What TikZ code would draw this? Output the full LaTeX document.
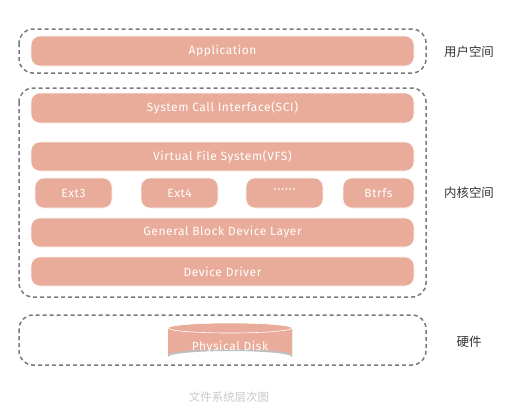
\documentclass[tikz,border=0pt]{standalone}
\usepackage{fontspec}
\setmainfont{Fira Sans}[LetterSpace=5]
\newfontfamily\cjk{Noto Sans CJK SC}
\definecolor{boxfill}{HTML}{EAAC9A}
\definecolor{dashgray}{HTML}{7A7A7A}
\definecolor{capgray}{HTML}{C8C8C8}
\tikzset{
  x=1bp, y=-1bp,
  layer/.style={fill=boxfill, draw=white!90!boxfill, line width=0.6bp, rounded corners=9bp},
  ltext/.style={text=white, font=\fontsize{12}{13}\selectfont},
  group/.style={draw=dashgray, line width=1.5bp, dash pattern=on 4bp off 3bp, rounded corners=14bp},
  side/.style={font=\cjk\fontsize{12.5}{14}\selectfont, text=black!80},
}
\begin{document}
\begin{tikzpicture}
\useasboundingbox (0,0) rectangle (520,413);
% groups
\draw[group] (19,29) rectangle (426,73);
\draw[group] (19,88) rectangle (426,297);
\draw[group] (19,315) rectangle (426,365);
% layers
\path[layer] (31,36) rectangle (414,66);
\node[ltext] (app) at (222.5,51) {Application};
\path[layer] (31,93) rectangle (414,123);
\node[ltext] (sci) at (222.5,108) {System Call Interface(SCI)};
\path[layer] (31,142) rectangle (414,171);
\node[ltext] (vfs) at (222.5,156.5) {Virtual File System(VFS)};
\path[layer] (35,178) rectangle (112,208);
\node[ltext] (ext3) at (73.5,193) {Ext3};
\path[layer] (141,178) rectangle (218,208);
\node[ltext] (ext4) at (179.5,193) {Ext4};
\path[layer] (246,178) rectangle (323,208);
\node[ltext, font=\fontsize{13}{14}\selectfont] (dots) at (284.5,191) {\textperiodcentered\textperiodcentered\textperiodcentered\textperiodcentered\textperiodcentered\textperiodcentered};
\path[layer] (343,178) rectangle (414,208);
\node[ltext] (btrfs) at (378.5,193) {Btrfs};
\path[layer] (31,218) rectangle (414,247);
\node[ltext] (gbdl) at (222.5,232.5) {General Block Device Layer};
\path[layer] (31,257) rectangle (414,286);
\node[ltext] (dd) at (222.5,271.5) {Device Driver};
% disk
\fill[black!25] (168,330) -- (168,357) arc[start angle=180, end angle=360, x radius=62, y radius=6] -- (292,330) -- cycle;
\fill[boxfill] (168,328) -- (168,355) arc[start angle=180, end angle=360, x radius=62, y radius=6] -- (292,328) -- cycle;
\draw[fill=boxfill, draw=white, line width=0.6bp] (230,328) ellipse[x radius=62, y radius=5];
\node[ltext] (disk) at (230,347) {Physical Disk};
% side labels
\node[side] (user) at (469,52) {用户空间};
\node[side] (kern) at (469,193) {内核空间};
\node[side] (hw) at (469,342) {硬件};
\node[font=\cjk\fontsize{11.5}{13}\selectfont, text=capgray] (cap) at (229,397) {文件系统层次图};
\end{tikzpicture}
\end{document}
